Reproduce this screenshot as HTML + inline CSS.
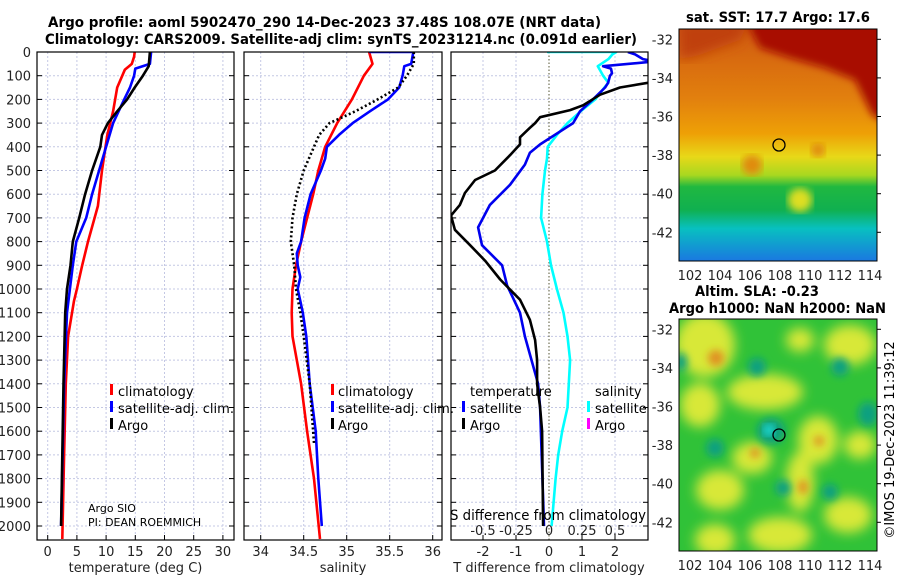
<!DOCTYPE html>
<html><head><meta charset="utf-8">
<style>
html,body{margin:0;padding:0;background:#fff;}
svg{display:block;font-family:"DejaVu Sans","Liberation Sans",sans-serif;}
</style></head>
<body>
<svg id="fig" width="900" height="580" viewBox="0 0 900 580">
<defs>
  <clipPath id="c1"><rect x="37" y="52" width="197" height="488"/></clipPath>
  <clipPath id="c2"><rect x="244" y="52" width="198" height="488"/></clipPath>
  <clipPath id="c3"><rect x="451" y="52" width="197" height="488"/></clipPath>
  <clipPath id="cm1"><rect x="679" y="29" width="198" height="232"/></clipPath>
  <clipPath id="cm2"><rect x="679" y="319" width="198" height="232"/></clipPath>
  <linearGradient id="sstg" x1="0" y1="0" x2="0" y2="1">
    <stop offset="0" stop-color="#d05a10"/>
    <stop offset="0.3" stop-color="#e2800e"/>
    <stop offset="0.45" stop-color="#eea006"/>
    <stop offset="0.55" stop-color="#e8d818"/>
    <stop offset="0.63" stop-color="#a8d820"/>
    <stop offset="0.68" stop-color="#20b840"/>
    <stop offset="0.78" stop-color="#10b050"/>
    <stop offset="0.86" stop-color="#08c0c0"/>
    <stop offset="1" stop-color="#1a78e0"/>
  </linearGradient>
  <filter id="blur6"><feGaussianBlur stdDeviation="6"/></filter>
  <filter id="blur4"><feGaussianBlur stdDeviation="4"/></filter>
</defs>

<text x="48" y="27" textLength="553" lengthAdjust="spacingAndGlyphs" font-size="14" font-weight="bold">Argo profile: aoml 5902470_290 14-Dec-2023 37.48S 108.07E (NRT data)</text>
<text x="45" y="44" textLength="592" lengthAdjust="spacingAndGlyphs" font-size="14" font-weight="bold">Climatology: CARS2009. Satellite-adj clim: synTS_20231214.nc (0.091d earlier)</text>

<g id="grid"></g>
<g id="series"></g>
<g id="frames"></g>
<g id="labels" font-size="13" fill="#222"></g>

<!-- legends -->
<g font-size="13">
  <rect x="110" y="384" width="3" height="11" fill="#f00"/><text x="118" y="396">climatology</text>
  <rect x="110" y="401" width="3" height="11" fill="#00f"/><text x="118" y="413" textLength="116" lengthAdjust="spacingAndGlyphs">satellite-adj. clim.</text>
  <rect x="110" y="418" width="3" height="11" fill="#000"/><text x="118" y="430">Argo</text>
</g>
<g font-size="13">
  <rect x="331" y="384" width="3" height="11" fill="#f00"/><text x="338" y="396">climatology</text>
  <rect x="331" y="401" width="3" height="11" fill="#00f"/><text x="338" y="413" textLength="116" lengthAdjust="spacingAndGlyphs">satellite-adj. clim.</text>
  <rect x="331" y="418" width="3" height="11" fill="#000"/><text x="338" y="430">Argo</text>
</g>
<g font-size="13">
  <text x="470" y="396">temperature</text>
  <text x="595" y="396">salinity</text>
  <rect x="462" y="401" width="3" height="11" fill="#00f"/><text x="470" y="413">satellite</text>
  <rect x="462" y="418" width="3" height="11" fill="#000"/><text x="470" y="430">Argo</text>
  <rect x="587" y="401" width="3" height="11" fill="#0ff"/><text x="595" y="413">satellite</text>
  <rect x="587" y="418" width="3" height="11" fill="#f0f"/><text x="595" y="430">Argo</text>
</g>
<text x="88" y="512" font-size="11">Argo SIO</text>
<text x="88" y="526" font-size="11">PI: DEAN ROEMMICH</text>
<text x="450" y="520" font-size="14" textLength="196" lengthAdjust="spacingAndGlyphs">S difference from climatology</text>

<!-- SST map -->
<g clip-path="url(#cm1)">
  <rect x="679" y="29" width="198" height="232" fill="url(#sstg)"/>
  <path d="M745 20 L900 20 L900 130 L872 115 L855 80 L825 68 L790 58 L760 48 Z" fill="#a80800" filter="url(#blur4)"/>
  <path d="M679 20 L750 20 L740 40 L700 55 L679 60 Z" fill="#c04008" filter="url(#blur6)"/>
  <ellipse cx="800" cy="200" rx="12" ry="12" fill="#dede20" filter="url(#blur4)"/>
  <ellipse cx="752" cy="165" rx="10" ry="10" fill="#e08a10" filter="url(#blur4)"/>
  <ellipse cx="818" cy="150" rx="7" ry="7" fill="#e08a10" filter="url(#blur4)"/>
  <circle cx="779" cy="145" r="6" fill="none" stroke="#000" stroke-width="1.3"/>
</g>
<rect x="679" y="29" width="198" height="232" fill="none" stroke="#000" stroke-width="1"/>
<text x="686" y="22" textLength="184" lengthAdjust="spacingAndGlyphs" font-size="14" font-weight="bold">sat. SST: 17.7 Argo: 17.6</text>

<!-- SLA map -->
<g clip-path="url(#cm2)">
  <rect x="679" y="319" width="198" height="232" fill="#30c238"/>
  <g fill="#d8e838" filter="url(#blur6)">
    <ellipse cx="705" cy="345" rx="30" ry="32"/>
    <ellipse cx="850" cy="345" rx="26" ry="20"/>
    <ellipse cx="765" cy="392" rx="38" ry="18"/>
    <ellipse cx="818" cy="440" rx="20" ry="24"/>
    <ellipse cx="752" cy="458" rx="20" ry="16"/>
    <ellipse cx="800" cy="482" rx="14" ry="30"/>
    <ellipse cx="720" cy="490" rx="24" ry="20"/>
    <ellipse cx="700" cy="405" rx="20" ry="22"/>
    <ellipse cx="780" cy="535" rx="32" ry="18"/>
    <ellipse cx="848" cy="515" rx="24" ry="18"/>
    <ellipse cx="715" cy="540" rx="20" ry="16"/>
    <ellipse cx="860" cy="445" rx="16" ry="14"/>
    <ellipse cx="800" cy="340" rx="14" ry="12"/>
  </g>
  <g fill="#e09020" filter="url(#blur4)">
    <ellipse cx="716" cy="358" rx="8" ry="8"/>
    <ellipse cx="819" cy="441" rx="5" ry="5"/>
    <ellipse cx="755" cy="453" rx="5" ry="5"/>
    <ellipse cx="803" cy="487" rx="5" ry="7"/>
  </g>
  <g fill="#10a080" filter="url(#blur4)">
    <ellipse cx="757" cy="367" rx="9" ry="9"/>
    <ellipse cx="840" cy="367" rx="9" ry="9"/>
    <ellipse cx="868" cy="414" rx="10" ry="12"/>
    <ellipse cx="771" cy="431" rx="14" ry="13"/>
    <ellipse cx="715" cy="448" rx="9" ry="9"/>
    <ellipse cx="783" cy="488" rx="8" ry="8"/>
    <ellipse cx="830" cy="492" rx="8" ry="8"/>
    <ellipse cx="681" cy="362" rx="6" ry="9"/>
  </g>
  <ellipse cx="769" cy="430" rx="6" ry="6" fill="#20d8d0" filter="url(#blur4)"/>
  <circle cx="779" cy="435" r="6" fill="none" stroke="#000" stroke-width="1.3"/>
</g>
<rect x="679" y="319" width="198" height="232" fill="none" stroke="#000" stroke-width="1"/>
<text x="695" y="296" textLength="124" lengthAdjust="spacingAndGlyphs" font-size="14" font-weight="bold">Altim. SLA: -0.23</text>
<text x="669" y="313" textLength="217" lengthAdjust="spacingAndGlyphs" font-size="14" font-weight="bold">Argo h1000: NaN h2000: NaN</text>
<text transform="translate(894,440) rotate(-90)" text-anchor="middle" font-size="13">©IMOS 19-Dec-2023 11:39:12</text>

<script>
// ---- data ----
const depthTicks = [0,100,200,300,400,500,600,700,800,900,1000,1100,1200,1300,1400,1500,1600,1700,1800,1900,2000];
const tempTicks = [0,5,10,15,20,25,30];
const salTicks = [34,34.5,35,35.5,36];
const tdiffTicks = [-2,-1,0,1,2];
const sdiffTicks = [-0.5,-0.25,0,0.25,0.5];
const sdiffTickLabels = ["-0.5","-0.25","0","0.25","0.5"];
const lonTicks = [102,104,106,108,110,112,114];
const latTicks = [-32,-34,-36,-38,-40,-42];

const climTDepth = [0,20,50,75,150,250,350,500,650,800,900,1000,1050,1200,1400,1700,2055];
const climT = [14.9,14.8,14.4,13.2,11.9,11.2,10.2,9.3,8.6,6.9,5.9,5.0,4.5,3.5,3.1,2.8,2.5];
const satTDepth = [0,50,70,100,150,200,300,400,500,600,700,800,900,1000,1100,1400,2000];
const satT = [17.7,17.5,15.0,14.8,14.1,13.1,11.2,10.0,8.8,7.6,6.6,4.9,4.3,3.8,3.3,2.8,2.3];
const argoTDepth = [0,60,100,150,200,250,300,350,400,500,600,700,800,900,1000,1100,1400,2000];
const argoT = [17.5,17.3,16.3,14.9,13.6,11.9,10.3,9.3,9.0,7.6,6.4,5.4,4.3,3.9,3.3,3.0,2.7,2.3];

const climSDepth = [0,50,100,200,300,400,500,600,700,800,900,1000,1100,1200,1400,1600,1800,2055];
const climS = [35.26,35.3,35.2,35.06,34.89,34.75,34.67,34.61,34.54,34.47,34.41,34.37,34.36,34.37,34.47,34.54,34.62,34.69];
const satSDepth = [0,0,10,50,60,100,150,200,250,300,350,400,450,500,600,700,800,850,900,950,1000,1050,1100,1200,1300,1400,1600,1800,2000];
const satS = [35.26,35.78,35.77,35.75,35.67,35.65,35.61,35.48,35.27,35.07,34.91,34.77,34.75,34.70,34.58,34.51,34.47,34.42,34.43,34.46,34.43,34.46,34.49,34.53,34.55,34.57,34.64,34.67,34.71];
const argoSDepth = [0,50,100,150,200,250,300,350,400,500,600,700,800,900,1000,1100,1200,1400,1650];
const argoS = [35.78,35.78,35.7,35.6,35.36,35.1,34.8,34.68,34.62,34.5,34.42,34.37,34.35,34.39,34.41,34.46,34.5,34.57,34.62];

const sDiffDepth = [0,0,10,30,60,80,100,130,150,200,250,300,350,400,450,500,600,700,800,900,1000,1100,1200,1300,1400,1500,1600,1700,1800,2000];
const sDiffSat = [-0.015,0.51,0.48,0.45,0.37,0.39,0.41,0.45,0.42,0.35,0.24,0.14,0.06,-0.01,-0.015,-0.03,-0.05,-0.06,-0.015,0.015,0.06,0.11,0.14,0.16,0.15,0.14,0.1,0.07,0.05,0.02];
const tDiffSatDepth = [0,10,30,40,60,70,90,100,130,150,200,250,300,390,425,475,560,645,740,815,900,985,1100,1200,1400,1500,2000];
const tDiffSat = [2.39,2.61,2.85,3.2,1.64,1.88,1.91,1.85,1.79,1.70,1.33,0.94,0.73,-0.27,-0.58,-0.73,-1.18,-1.79,-2.15,-2.03,-1.42,-1.27,-0.88,-0.73,-0.33,-0.27,-0.15];
const tDiffArgoDepth = [0,40,80,130,150,180,225,245,275,300,320,360,390,435,500,540,595,645,690,750,815,880,960,1045,1130,1215,1300,1400,1500,1600,2000];
const tDiffArgo = [3.4,3.1,3.3,3.0,2.15,1.55,1.03,0.64,-0.27,-0.42,-0.58,-0.88,-0.88,-1.18,-1.64,-2.24,-2.55,-2.7,-2.97,-2.85,-2.39,-1.94,-1.48,-0.88,-0.58,-0.42,-0.36,-0.36,-0.27,-0.21,-0.18];

// ---- axes ----
const NS = "http://www.w3.org/2000/svg";
const yD = d => 52 + d*0.237;
const xT = t => 47.7 + t*5.84;
const xS = s => 260.7 + (s-34)*86;
const xTD = v => 549 + v*33;
const xSD = v => 549 + v*132;
const mLon = l => 690 + (l-102)*15;
const mLat1 = l => 39.3 + (-32 - l)*19.3;
const mLat2 = l => 329.3 + (-32 - l)*19.3;
const panels = [{x0:37,x1:234},{x0:244,x1:442},{x0:451,x1:648}];

function el(tag, attrs, parent){
  const e = document.createElementNS(NS, tag);
  for (const k in attrs) e.setAttribute(k, attrs[k]);
  parent.appendChild(e);
  return e;
}
const grid = document.getElementById('grid');
const series = document.getElementById('series');
const frames = document.getElementById('frames');
const labels = document.getElementById('labels');

panels.forEach(p => {
  depthTicks.forEach(d => {
    const g = el('line',{x1:p.x0,x2:p.x1,y1:yD(d),y2:yD(d),stroke:'#c4c8e4','stroke-width':1,'stroke-dasharray':'2,2'},grid);
    
    
    el('line',{x1:p.x0,x2:p.x0+5,y1:yD(d),y2:yD(d),stroke:'#000'},grid);
    el('line',{x1:p.x1-5,x2:p.x1,y1:yD(d),y2:yD(d),stroke:'#000'},grid);
  });
});
depthTicks.forEach(d => {
  const t = el('text',{x:31,y:yD(d)+5,'text-anchor':'end'},labels);
  t.textContent = d;
  
  
});
function vgrid(ticks, fx, p, lbls){
  ticks.forEach((v,i) => {
    const g = el('line',{x1:fx(v),x2:fx(v),y1:52,y2:540,stroke:'#c4c8e4','stroke-width':1,'stroke-dasharray':'2,2'},grid);
    
    
    el('line',{x1:fx(v),x2:fx(v),y1:535,y2:540,stroke:'#000'},grid);
    const t = el('text',{x:fx(v),y:556,'text-anchor':'middle'},labels);
    t.textContent = lbls ? lbls[i] : v;
    
    
  });
}
vgrid(tempTicks, xT, panels[0]);
vgrid(salTicks, xS, panels[1]);
vgrid(tdiffTicks.filter(v=>v!==0), xTD, panels[2]);
{
  const t = el('text',{x:xTD(0),y:556,'text-anchor':'middle'},labels); t.textContent='0';
  
  
  const z = el('line',{x1:xTD(0),x2:xTD(0),y1:52,y2:540,stroke:'#555533','stroke-width':1,'stroke-dasharray':'1.5,2'},grid);
  
  
}
sdiffTicks.forEach((v,i) => {
  const t = el('text',{x:xSD(v),y:535,'text-anchor':'middle'},labels);
  t.textContent = sdiffTickLabels[i];
  
  
});
[['temperature (deg C)',135.5,'temperature-axis-title'],['salinity',343,'salinity-axis-title'],['T difference from climatology',549,'t-diff-axis-title']].forEach(a=>{
  const t = el('text',{x:a[1],y:572,'text-anchor':'middle'},labels);
  t.textContent = a[0];
  
  
});
panels.forEach(p => {
  const f = el('rect',{x:p.x0,y:52,width:p.x1-p.x0,height:488,fill:'none',stroke:'#000','stroke-width':1.2},frames);
  
  
});

function line(depths, vals, fx, color, clip, name, dash){
  const d = depths.map((dd,i)=>(i?'L':'M')+fx(vals[i]).toFixed(1)+' '+yD(dd).toFixed(1)).join(' ');
  const attrs = {d:d,fill:'none',stroke:color,'stroke-width':2.6,'stroke-linejoin':'round','clip-path':'url(#'+clip+')'};
  if (dash) attrs['stroke-dasharray'] = '2,2.5';
  const p = el('path',attrs,series);
  
  
}
line(climTDepth, climT, xT, '#f00', 'c1', 'temperature-climatology-line');
line(satTDepth, satT, xT, '#00f', 'c1', 'temperature-satellite-line');
line(argoTDepth, argoT, xT, '#000', 'c1', 'temperature-argo-line');
line(climSDepth, climS, xS, '#f00', 'c2', 'salinity-climatology-line');
line(satSDepth, satS, xS, '#00f', 'c2', 'salinity-satellite-line');
line(argoSDepth, argoS, xS, '#000', 'c2', 'salinity-argo-line', true);
line(sDiffDepth, sDiffSat, xSD, '#0ff', 'c3', 's-diff-satellite-line');
line(tDiffSatDepth, tDiffSat, xTD, '#00e', 'c3', 't-diff-satellite-line');
line(tDiffArgoDepth, tDiffArgo, xTD, '#000', 'c3', 't-diff-argo-line');

lonTicks.forEach(l => {
  [[261,280],[551,570]].forEach(r => {
    el('line',{x1:mLon(l),x2:mLon(l),y1:r[0]-4,y2:r[0],stroke:'#000'},grid);
    const t = el('text',{x:mLon(l),y:r[1],'text-anchor':'middle'},labels);
    t.textContent = l;
    
    
  });
});
latTicks.forEach(l => {
  [mLat1(l), mLat2(l)].forEach(y => {
    el('line',{x1:877,x2:881,y1:y,y2:y,stroke:'#000'},frames);
    const t = el('text',{x:673,y:y+5,'text-anchor':'end'},labels);
    t.textContent = l;
    
    
  });
});
</script>
</svg>
</body></html>
